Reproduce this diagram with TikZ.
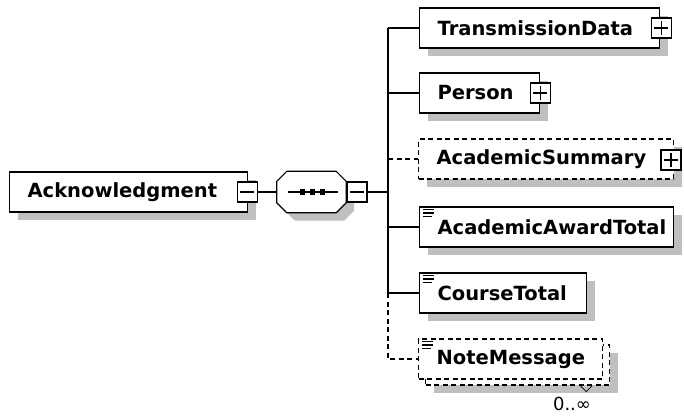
\documentclass[tikz,border=0pt]{standalone}
\usepackage{fontspec}
\setmainfont{DejaVu Sans}
\usetikzlibrary{arrows,shadows}

\begin{document}
\begin{tikzpicture}[x=1pt,y=-1pt,
  conn/.style={line width=1.2pt},
  opt/.style={dash pattern=on 5pt off 3.5pt},
  shad/.style={general shadow={fill=gray!50,draw=none,shadow xshift=8pt,shadow yshift=-8pt}},
  elem/.style={draw,conn,fill=white,rectangle,anchor=west,minimum height=40pt,
    inner xsep=18pt,inner ysep=0pt,align=left,font=\fontsize{19.5}{22}\selectfont\bfseries},
  pm/.style={draw,line width=1.1pt,fill=white,rectangle,minimum size=20pt,inner sep=0pt},
  minusbox/.style={pm,path picture={
    \draw[line width=1.1pt] ([xshift=3pt]path picture bounding box.west) -- ([xshift=-3pt]path picture bounding box.east);}},
  plusbox/.style={pm,path picture={
    \draw[line width=1.1pt] ([xshift=3pt]path picture bounding box.west) -- ([xshift=-3pt]path picture bounding box.east);
    \draw[line width=1.1pt] ([yshift=-3pt]path picture bounding box.north) -- ([yshift=3pt]path picture bounding box.south);}}]

\useasboundingbox (0,0) rectangle (684,416);

\node[elem,shad,text width=202pt] (v1) at (9,192) {Acknowledgment};
\node[minusbox] (m1) at ([xshift=-1pt]v1.east) {};

\node[minimum width=69pt,minimum height=41pt,inner sep=0pt] (v2) at (311.5,192) {};
\draw[conn,fill=white,shad] ([xshift=10pt]v2.north west) -- ([xshift=-10pt]v2.north east)
  -- ([yshift=-10pt]v2.north east) -- ([yshift=10pt]v2.south east)
  -- ([xshift=-10pt]v2.south east) -- ([xshift=10pt]v2.south west)
  -- ([yshift=10pt]v2.south west) -- ([yshift=-10pt]v2.north west) -- cycle;
\node[minusbox] (m2) at (357,192) {};
\draw[conn] ([xshift=-24pt]v2.center) -- ([xshift=26pt]v2.center);
\foreach \dx in {-9,1,11}
  \fill ([xshift=\dx pt]v2.center) +(-2.6,-2.6) rectangle +(2.6,2.6);

\node[elem,shad,text width=204pt] (v3) at (419,28) {TransmissionData};
\node[plusbox] (p3) at ([xshift=1pt]v3.east) {};

\node[elem,shad,text width=84pt] (v4) at (419,93) {Person};
\node[plusbox] (p4) at (v4.east) {};

\node[elem,opt,shad,text width=219pt] (v5) at (418,159) {AcademicSummary};
\node[plusbox] (p5) at (671,160) {};

\node[elem,shad,text width=218pt] (v6) at (419,227) {AcademicAwardTotal};

\node[elem,shad,text width=131pt] (v7) at (419,293) {CourseTotal};

\node[elem,opt,shad,text width=148pt] (v8b) at (425,365) {\phantom{NoteMessage}};
\node[elem,opt,text width=148pt] (v8) at (418,359) {NoteMessage};
\draw[line width=0.8pt] ([xshift=-30pt]v8b.south east) -- ++(6,6) -- ++(6,-6);
\node[font=\fontsize{18}{20}\selectfont] (n8) at (572,404) {0..∞};

\foreach \n in {v6,v7,v8} {
  \draw[line width=1.4pt] ([shift={(4,3)}]\n.north west) -- ++(11,0);
  \draw[line width=1.4pt] ([shift={(4,6.5)}]\n.north west) -- ++(11,0);
  \draw[line width=1.4pt] ([shift={(4,10)}]\n.north west) -- ++(9,0);
}

\coordinate (b) at (388,192);
\coordinate (c3) at (388,28);
\coordinate (c4) at (388,93);
\coordinate (c5) at (388,159);
\coordinate (c6) at (388,227);
\coordinate (c7) at (388,293);
\coordinate (c8) at (388,359);

\draw[conn] (m1) -- (v2);
\draw[conn] (m2) -- (b);
\draw[conn] (c3) -- (c7);
\draw[conn] (c3) -- (v3);
\draw[conn] (c4) -- (v4);
\draw[conn,opt] (c5) -- (v5);
\draw[conn] (c6) -- (v6);
\draw[conn] (c7) -- (v7);
\draw[conn,opt] (c7) -- (c8) -- (v8);

\end{tikzpicture}
\end{document}
